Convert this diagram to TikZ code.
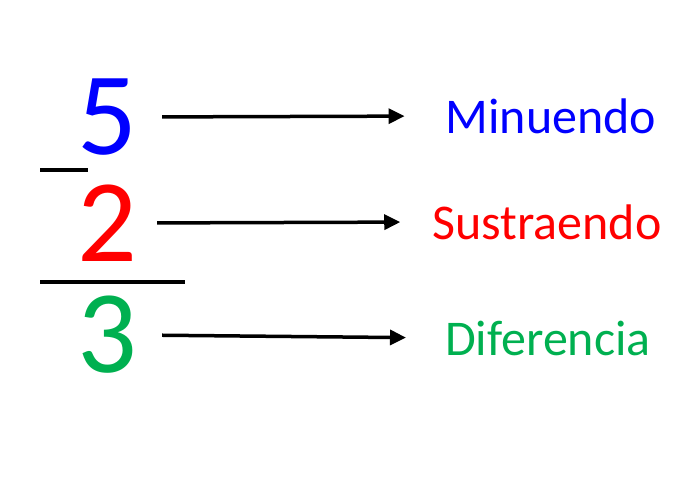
\documentclass[tikz,border=0pt]{standalone}
\usepackage{fontspec}
\setmainfont{Carlito}
\usepackage{xcolor}
\usetikzlibrary{arrows.meta}
\definecolor{minblue}{HTML}{0000FF}
\definecolor{subred}{HTML}{FF0000}
\definecolor{difgreen}{HTML}{00B050}
\tikzset{
  digit/.style={inner sep=0pt,font=\fontsize{118}{118}\selectfont},
  term/.style={inner sep=0pt,font=\fontsize{50}{50}\selectfont},
  rule/.style={line width=4pt,draw=black},
  arrow/.style={-{Triangle[length=16pt,width=15pt]},line width=3.5pt,draw=black}
}
\begin{document}
\begin{tikzpicture}[x=1pt,y=-1pt]
\useasboundingbox (0,0) rectangle (697,486);
\node[digit,text=minblue] (five) at (107,117) {5};
\node[digit,text=subred] (two) at (107,223) {2};
\node[digit,text=difgreen] (three) at (107,335) {3};
\node[term,text=minblue] (minu) at (551,116) {Minuendo};
\node[term,text=subred] (sust) at (547,222) {Sustraendo};
\node[term,text=difgreen] (dife) at (548,338) {Diferencia};
\draw[rule] (40,170) -- (88,170);
\draw[rule] (40,282) -- (185,282);
\draw[arrow,shorten <=25pt,shorten >=41pt] (five.east) -- (minu.west);
\draw[arrow,shorten <=20pt,shorten >=32pt] (two.east) -- (sust.west);
\draw[arrow,shorten <=25pt,shorten >=39pt] (three.east) -- (dife.west);
\end{tikzpicture}
\end{document}
